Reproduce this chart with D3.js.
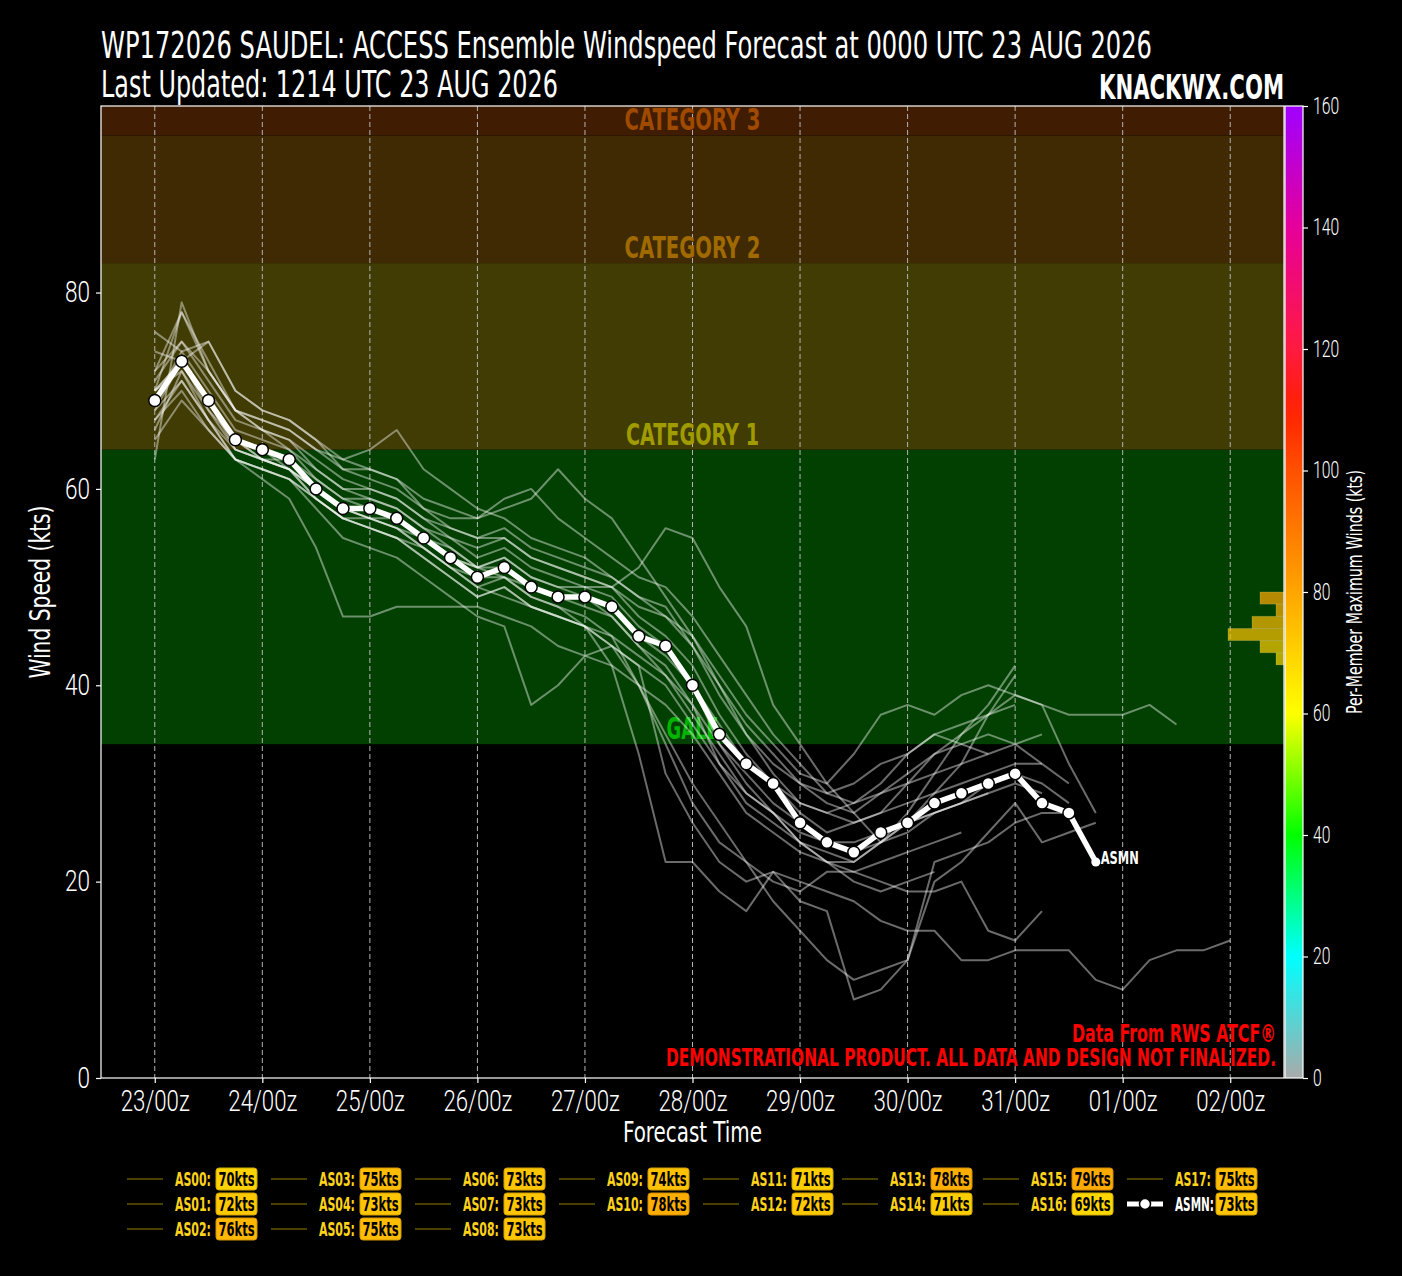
<!DOCTYPE html>
<html>
<head>
<meta charset="utf-8">
<title>WP172026 SAUDEL ACCESS Ensemble Windspeed Forecast</title>
<script src="https://cdnjs.cloudflare.com/ajax/libs/d3/7.8.5/d3.min.js"></script>
<style>
    body { margin: 0; background: #000; }
    svg text { font-family: "Liberation Sans Narrow", "DejaVu Sans Condensed", "Liberation Sans", sans-serif; }
    svg .tick text { font-family: Roboto, "DejaVu Sans Condensed", sans-serif; font-weight: 300; }
</style>
</head>
<body>
<script>
// forecast step between points (hours)
var stepHours = 6;

var memberNames = ["AS00","AS01","AS02","AS03","AS04","AS05","AS06","AS07","AS08",
                   "AS09","AS10","AS11","AS12","AS13","AS14","AS15","AS16","AS17"];
var memberMax = [70,72,76,75,73,75,73,73,73,74,78,71,72,78,71,79,69,75];

// wind (kts) every 6 h from 0000 UTC 23 AUG
var members = [
    [67,70,66,63,62,61,59,57,56,55,54,52,50,49,48,47,46,44,42,31,26,22,20,21,20,19,18,16,15,15,12,12,13,13,13,10,9,12,13,13,14],
    [70,72,68,65,63,62,60,58,57,57,55,54,52,53,51,50,49,48,45,43,40,36,32,30,27,25,26,27,28,29,30,31,32,32],
    [76,74,75,70,68,67,65,62,61,60,58,56,55,56,54,53,52,51,49,47,45,41,37,34,31,30,33,37,38,37,39,40,39,38,37,37,37,38,36],
    [72,75,71,67,66,65,63,61,60,59,57,56,55,55,53,52,51,50,52,56,55,50,46,38,34,30,27,24,25,27,28,30,31,30,28],
    [69,73,69,65,64,62,59,57,57,56,54,52,50,51,49,48,46,42,33,22,22,19,17,21,18,17,8,9,12,22,23,24,26,27,27],
    [71,75,72,68,67,66,64,62,62,61,58,57,57,58,59,62,59,57,53,49,45,40,35,31,28,27,26,27,30,33,35,37,39,38,32,27],
    [70,73,69,64,63,62,59,57,56,55,53,51,49,50,48,47,46,44,40,34,28,24,22,18,15,12,10,11,12,20,22,25,28,24,25,26],
    [68,73,68,64,63,63,61,59,58,57,55,53,52,53,51,50,50,49,46,44,40,34,30,27,24,22,22,24,27,31,35,38,42],
    [70,73,69,65,63,62,60,58,57,56,54,52,51,51,49,48,47,45,40,35,30,26,22,20,19,21,21,20,19,19,20,15,14,17],
    [69,74,70,66,65,64,61,59,59,58,56,54,52,52,50,49,49,47,44,41,37,33,29,27,25,24,24,25,26,29,32,37,41],
    [72,78,72,68,66,64,62,60,59,58,56,55,54,55,53,52,51,50,47,45,42,37,33,30,28,27,28,29,30,31,32,33,34,35],
    [67,71,67,63,62,61,58,55,54,53,51,49,47,46,38,40,43,44,42,40,36,32,29,27,24,23,22,24,26,27,28,29],
    [66,72,67,63,61,59,54,47,47,48,48,48,48,47,46,44,43,42,40,38,35,31,27,25,23,22,21,22,23,24,25],
    [70,78,73,68,66,65,62,60,60,59,57,55,53,54,52,51,50,50,48,47,44,40,36,33,30,28,27,29,31,33,34,35,34,32,30],
    [68,71,67,64,63,62,60,58,57,56,55,53,52,51,50,49,48,47,44,42,38,32,28,26,24,22,20,19,20,21],
    [63,79,72,68,67,66,64,63,64,66,62,60,58,57,55,54,53,51,49,48,44,39,35,32,30,29,30,32,33,35,34,33],
    [65,69,66,63,62,61,59,57,56,55,53,51,49,50,48,47,46,45,43,41,38,34,31,28,26,24,23,24,26,27,28,29,30,29],
    [74,73,75,70,68,67,65,63,62,61,59,58,57,59,60,57,55,53,51,50,47,43,39,35,32,29,28,30,33,35,36,37,38]
];

var meanName = "ASMN";
var meanMax = 73;
var meanValues = [69,73,69,65,64,63,60,58,58,57,55,53,51,52,50,49,49,48,45,44,40,35,32,30,26,24,23,25,26,28,29,30,31,28,27,22];

var dayTicks = [0,24,48,72,96,120,144,168,192,216,240];
var dayLabels = ["23/00z","24/00z","25/00z","26/00z","27/00z","28/00z","29/00z","30/00z","31/00z","01/00z","02/00z"];
var yTicks = [0,20,40,60,80];
var cbarTicks = [0,20,40,60,80,100,120,140,160];

var catThresholds = [34,64,83,96];
var catNames = ["GALE","CATEGORY 1","CATEGORY 2","CATEGORY 3"];

// styling
var bandFill = ["#014001","#403c04","#402a03","#3f1c02"];
var catText = ["#00b400","#a09c00","#a06a00","#a04a00"];
var catWidth = [52,133,136,136];
var cStops = [0,20,40,60,80,100,110,120,140,160];
var cColors = ["#aaaaaa","#00ffff","#00ff00","#ffff00","#ffa500","#ff5000","#ff2000","#ff1a40","#e6009a","#a000ff"];

var W = 1402, H = 1276;
var plot = {left: 101, right: 1284, top: 106, bottom: 1078};

var svg = d3.select("body").append("svg")
    .attr("width", W)
    .attr("height", H)
    .style("background", "#000");

var x = d3.scaleLinear().domain([-12, 252]).range([plot.left, plot.right]);
var y = d3.scaleLinear().domain([0, 99]).range([plot.bottom, plot.top]);
var yc = d3.scaleLinear().domain([0, 160]).range([plot.bottom, plot.top]);
var color = d3.scaleLinear().domain(cStops).range(cColors).interpolate(d3.interpolateRgb);

// intensity bands
var bandEdges = catThresholds.concat([y.domain()[1]]);
svg.append("g").selectAll("rect")
    .data(catNames)
    .join("rect")
    .attr("x", plot.left)
    .attr("width", plot.right - plot.left)
    .attr("y", (d, i) => y(bandEdges[i + 1]))
    .attr("height", (d, i) => y(bandEdges[i]) - y(bandEdges[i + 1]))
    .attr("fill", (d, i) => bandFill[i]);

// vertical dashed grid
svg.append("g").selectAll("line")
    .data(dayTicks)
    .join("line")
    .attr("x1", d => x(d)).attr("x2", d => x(d))
    .attr("y1", plot.top).attr("y2", plot.bottom)
    .attr("stroke", "#b4b4b4")
    .attr("stroke-width", 1)
    .attr("stroke-dasharray", "5,3");

// band labels
svg.append("g").selectAll("text")
    .data(catNames)
    .join("text")
    .attr("x", (plot.left + plot.right) / 2)
    .attr("y", (d, i) => y(catThresholds[i]) - 5)
    .attr("text-anchor", "middle")
    .attr("font-size", 30)
    .attr("font-weight", "bold")
    .attr("textLength", (d, i) => catWidth[i])
    .attr("lengthAdjust", "spacingAndGlyphs")
    .attr("fill", (d, i) => catText[i])
    .text(d => d);

svg.append("clipPath").attr("id", "plotclip")
    .append("rect")
    .attr("x", plot.left).attr("y", plot.top)
    .attr("width", plot.right - plot.left).attr("height", plot.bottom - plot.top);

var line = d3.line()
    .x((d, i) => x(i * stepHours))
    .y(d => y(d));

// member spaghetti
svg.append("g").attr("clip-path", "url(#plotclip)")
    .selectAll("path")
    .data(members)
    .join("path")
    .attr("d", line)
    .attr("fill", "none")
    .attr("stroke", "#ffffff")
    .attr("stroke-opacity", 0.42)
    .attr("stroke-width", 2)
    .attr("stroke-linejoin", "round");

// histogram of per-member max winds (on the colorbar scale)
var bins = d3.bin()
    .domain([0, 160])
    .thresholds(d3.range(2, 160, 2))(memberMax.concat([meanMax]))
    .filter(b => b.length > 0);
var hw = d3.scaleLinear().domain([0, 1]).range([0, 8]);
svg.append("g").selectAll("rect")
    .data(bins)
    .join("rect")
    .attr("x", d => plot.right - hw(d.length))
    .attr("width", d => hw(d.length))
    .attr("y", d => yc(d.x1))
    .attr("height", d => yc(d.x0) - yc(d.x1))
    .attr("fill", d => color((d.x0 + d.x1) / 2))
    .attr("fill-opacity", 0.7)
    .attr("stroke", "#ffffff")
    .attr("stroke-opacity", 0.15)
    .attr("stroke-width", 1);

// ensemble mean
svg.append("path")
    .datum(meanValues)
    .attr("d", line)
    .attr("fill", "none")
    .attr("stroke", "#fff")
    .attr("stroke-width", 5.5)
    .attr("stroke-linejoin", "round");

svg.append("g").selectAll("circle")
    .data(meanValues)
    .join("circle")
    .attr("cx", (d, i) => x(i * stepHours))
    .attr("cy", d => y(d))
    .attr("r", (d, i) => i === meanValues.length - 1 ? 4.5 : 6)
    .attr("fill", "#fff")
    .attr("stroke", (d, i) => i === meanValues.length - 1 ? "none" : "#000")
    .attr("stroke-width", 1.5);

var lastI = meanValues.length - 1;
svg.append("text")
    .attr("x", x(lastI * stepHours) + 5)
    .attr("y", y(meanValues[lastI]) + 2)
    .attr("font-size", 17)
    .attr("font-weight", "bold")
    .attr("fill", "#fff")
    .attr("textLength", 38)
    .attr("lengthAdjust", "spacingAndGlyphs")
    .text(meanName);

// frame
svg.append("rect")
    .attr("x", plot.left).attr("y", plot.top)
    .attr("width", plot.right - plot.left).attr("height", plot.bottom - plot.top)
    .attr("fill", "none")
    .attr("stroke", "#fff")
    .attr("stroke-width", 1.2);

// axes
function styleTicks(g, size, perChar) {
    g.select(".domain").remove();
    g.selectAll(".tick line").attr("stroke", "#fff").attr("stroke-width", 1.2);
    g.selectAll(".tick text")
        .attr("fill", "#fff")
        .attr("font-size", size)
        .attr("font-family", null)
        .attr("textLength", function() { return this.textContent.length * perChar; })
        .attr("lengthAdjust", "spacingAndGlyphs");
}
var xAxis = svg.append("g")
    .attr("transform", "translate(0," + plot.bottom + ")")
    .call(d3.axisBottom(x).tickValues(dayTicks).tickFormat((d, i) => dayLabels[i]).tickSize(5).tickPadding(7));
styleTicks(xAxis, 29, 11.5);
var yAxis = svg.append("g")
    .attr("transform", "translate(" + plot.left + ",0)")
    .call(d3.axisLeft(y).tickValues(yTicks).tickSize(5).tickPadding(6));
styleTicks(yAxis, 29, 12.5);

// colorbar
var cbX = 1285, cbW = 18;
var grad = svg.append("defs").append("linearGradient")
    .attr("id", "cbgrad")
    .attr("x1", 0).attr("y1", 1).attr("x2", 0).attr("y2", 0);
grad.selectAll("stop")
    .data(d3.range(0, 161, 4))
    .join("stop")
    .attr("offset", d => d / 160)
    .attr("stop-color", d => color(d));
svg.append("rect")
    .attr("x", cbX).attr("y", plot.top)
    .attr("width", cbW).attr("height", plot.bottom - plot.top)
    .attr("fill", "url(#cbgrad)")
    .attr("stroke", "#fff")
    .attr("stroke-width", 1.2);
var cAxis = svg.append("g")
    .attr("transform", "translate(" + (cbX + cbW) + ",0)")
    .call(d3.axisRight(yc).tickValues(cbarTicks).tickSize(5).tickPadding(5));
styleTicks(cAxis, 23, 8.7);

svg.append("text")
    .attr("transform", "translate(1362," + (plot.top + plot.bottom) / 2 + ") rotate(-90)")
    .attr("text-anchor", "middle")
    .attr("font-size", 22)
    .attr("fill", "#fff")
    .attr("textLength", 244)
    .attr("lengthAdjust", "spacingAndGlyphs")
    .text("Per-Member Maximum Winds (kts)");

// axis titles
svg.append("text")
    .attr("transform", "translate(50," + (plot.top + plot.bottom) / 2 + ") rotate(-90)")
    .attr("text-anchor", "middle")
    .attr("font-size", 29)
    .attr("fill", "#fff")
    .attr("textLength", 173)
    .attr("lengthAdjust", "spacingAndGlyphs")
    .text("Wind Speed (kts)");
svg.append("text")
    .attr("x", (plot.left + plot.right) / 2)
    .attr("y", 1142)
    .attr("text-anchor", "middle")
    .attr("font-size", 29)
    .attr("fill", "#fff")
    .attr("textLength", 139)
    .attr("lengthAdjust", "spacingAndGlyphs")
    .text("Forecast Time");

// titles
svg.append("text")
    .attr("x", 101).attr("y", 58)
    .attr("font-size", 38)
    .attr("fill", "#fff")
    .attr("textLength", 1051)
    .attr("lengthAdjust", "spacingAndGlyphs")
    .text("WP172026 SAUDEL: ACCESS Ensemble Windspeed Forecast at 0000 UTC 23 AUG 2026");
svg.append("text")
    .attr("x", 101).attr("y", 97)
    .attr("font-size", 38)
    .attr("fill", "#fff")
    .attr("textLength", 457)
    .attr("lengthAdjust", "spacingAndGlyphs")
    .text("Last Updated: 1214 UTC 23 AUG 2026");
svg.append("text")
    .attr("x", 1099).attr("y", 99)
    .attr("font-size", 34)
    .attr("font-weight", "bold")
    .attr("fill", "#fff")
    .attr("textLength", 185)
    .attr("lengthAdjust", "spacingAndGlyphs")
    .text("KNACKWX.COM");

// disclaimer
svg.append("text")
    .attr("x", 1072).attr("y", 1042)
    .attr("font-size", 25)
    .attr("font-weight", "bold")
    .attr("fill", "#ff0000")
    .attr("textLength", 204)
    .attr("lengthAdjust", "spacingAndGlyphs")
    .text("Data From RWS ATCF®");
svg.append("text")
    .attr("x", 666).attr("y", 1066)
    .attr("font-size", 25)
    .attr("font-weight", "bold")
    .attr("fill", "#ff0000")
    .attr("textLength", 610)
    .attr("lengthAdjust", "spacingAndGlyphs")
    .text("DEMONSTRATIONAL PRODUCT. ALL DATA AND DESIGN NOT FINALIZED.");

// legend (column-major, 8 columns like matplotlib)
var items = memberNames.map((n, i) => ({name: n, max: memberMax[i], mean: false}));
items.push({name: meanName, max: meanMax, mean: true});
var ncol = 8;
var baseRows = Math.floor(items.length / ncol), bigCols = items.length % ncol;
var colX = [175, 319, 463, 607, 751, 890, 1031, 1175];
var rowY = [1179, 1204, 1229];
var k = 0;
for (var c = 0; c < ncol; c++) {
    var nr = baseRows + (c < bigCols ? 1 : 0);
    for (var r = 0; r < nr; r++) {
        items[k].x = colX[c];
        items[k].y = rowY[r];
        k++;
    }
}

var leg = svg.append("g").selectAll("g")
    .data(items)
    .join("g")
    .attr("transform", d => "translate(" + d.x + "," + d.y + ")");

leg.append("line")
    .attr("x1", -48).attr("x2", -12)
    .attr("stroke", d => d.mean ? "#fff" : "#4a4000")
    .attr("stroke-width", d => d.mean ? 5 : 2);
leg.filter(d => d.mean).append("circle")
    .attr("cx", -30).attr("r", 5.5)
    .attr("fill", "#fff").attr("stroke", "#000").attr("stroke-width", 1.5);

leg.append("text")
    .attr("y", 7)
    .attr("font-size", 19)
    .attr("font-weight", "bold")
    .attr("fill", d => d.mean ? "#fff" : "#ffd21a")
    .attr("textLength", d => d.mean ? 39 : 36)
    .attr("lengthAdjust", "spacingAndGlyphs")
    .text(d => d.name + ":");

leg.append("rect")
    .attr("x", 41).attr("y", -11)
    .attr("width", 41).attr("height", 22)
    .attr("rx", 3)
    .attr("fill", d => color(d.max))
    .attr("stroke", d => d3.color(color(d.max)).darker(0.6))
    .attr("stroke-width", 1);

leg.append("text")
    .attr("x", 61.5).attr("y", 7)
    .attr("text-anchor", "middle")
    .attr("font-size", 19)
    .attr("font-weight", "bold")
    .attr("fill", "#000")
    .attr("textLength", 36)
    .attr("lengthAdjust", "spacingAndGlyphs")
    .text(d => d.max + "kts");
</script>
</body>
</html>
